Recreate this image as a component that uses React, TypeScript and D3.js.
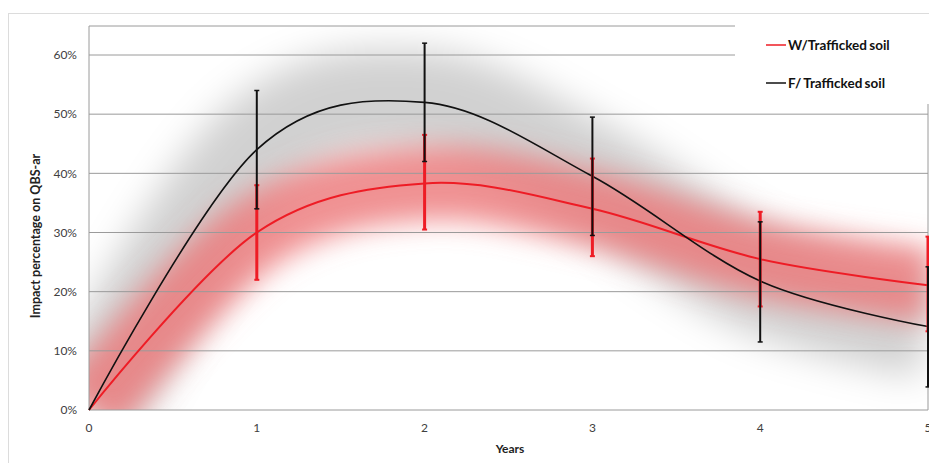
import React from "react";
import * as d3 from "d3";

const years = [0, 1, 2, 3, 4, 5];
const wSeries = [0, 30, 38.3, 34, 25.5, 21.1];
const fSeries = [0, 44, 52, 39.5, 21.8, 14.1];
const wLow = [null, 22, 30.5, 26, 17.5, 13.3];
const wHigh = [null, 38, 46.5, 42.5, 33.5, 29.3];
const fLow = [null, 34, 42, 29.5, 11.5, 3.9];
const fHigh = [null, 54, 62, 49.5, 31.8, 24.2];
const yTicks = [0, 10, 20, 30, 40, 50, 60];
const xTicks = [0, 1, 2, 3, 4, 5];
const legendLabels = ["W/Trafficked soil", "F/ Trafficked soil"];

const W = 929;
const H = 463;
const FONT = "Lato, 'Open Sans', sans-serif";

export default function App() {
  const left = 89, right = 928, top = 26, bottom = 410;
  const x = d3.scaleLinear().domain([0, 5]).range([left, right]);
  const y = d3.scaleLinear().domain([0, 60]).range([bottom, 55]);
  const curve = d3.curveCatmullRom.alpha(0);
  const line = d3.line<number>().x((_, i) => x(years[i])).y((d) => y(d)).curve(curve);

  const gridColor = "#9a9a9a";
  const legendLeft = 735;
  const legendBottom = 104;

  return (
    <svg width={W} height={H} style={{ position: "absolute", left: 0, top: 0, background: "#fff" }}>
      <defs>
        <filter id="blurG" x="-20%" y="-50%" width="140%" height="200%">
          <feGaussianBlur stdDeviation="18" />
        </filter>
        <filter id="blurR" x="-20%" y="-50%" width="140%" height="200%">
          <feGaussianBlur stdDeviation="14" />
        </filter>
        <clipPath id="plotClip">
          <rect x={left} y={top} width={right - left} height={bottom - top} />
        </clipPath>
      </defs>
      <rect x={8.5} y={13.5} width={940} height={470} fill="#fff" stroke="#dcdcdc" />
      {/* bands */}
      <g clipPath="url(#plotClip)">
        <g filter="url(#blurG)">
          <path d={line(fSeries) || ""} fill="none" stroke="#000" strokeOpacity={0.18} strokeWidth={104} />
        </g>
        <g filter="url(#blurR)">
          <path d={line(wSeries) || ""} fill="none" stroke="rgb(236,118,120)" strokeOpacity={0.8} strokeWidth={74} />
        </g>
      </g>
      {/* gridlines */}
      {yTicks.map((t) => (
        <line key={t} x1={left} x2={t >= 60 ? legendLeft : right} y1={y(t)} y2={y(t)} stroke={gridColor} strokeWidth={1} />
      ))}
      <line x1={left} x2={legendLeft} y1={top} y2={top} stroke={gridColor} />
      <line x1={left} x2={left} y1={top} y2={bottom} stroke={gridColor} />
      <line x1={right} x2={right} y1={legendBottom} y2={bottom} stroke={gridColor} />
      {/* lines */}
      <path d={line(wSeries) || ""} fill="none" stroke="#ee1c25" strokeWidth={2} />
      <path d={line(fSeries) || ""} fill="none" stroke="#111" strokeWidth={1.6} />
      {/* error bars */}
      {years.map((yr, i) =>
        wLow[i] == null ? null : (
          <g key={"w" + i} stroke="#ee1c25">
            <line x1={x(yr)} x2={x(yr)} y1={y(wLow[i] as number)} y2={y(wHigh[i] as number)} strokeWidth={3} />
            <line x1={x(yr) - 2.5} x2={x(yr) + 2.5} y1={y(wLow[i] as number)} y2={y(wLow[i] as number)} strokeWidth={2} />
            <line x1={x(yr) - 2.5} x2={x(yr) + 2.5} y1={y(wHigh[i] as number)} y2={y(wHigh[i] as number)} strokeWidth={2} />
          </g>
        )
      )}
      {years.map((yr, i) =>
        fLow[i] == null ? null : (
          <g key={"f" + i} stroke="#111">
            <line x1={x(yr)} x2={x(yr)} y1={y(fLow[i] as number)} y2={y(fHigh[i] as number)} strokeWidth={2} />
            <line x1={x(yr) - 2.5} x2={x(yr) + 2.5} y1={y(fLow[i] as number)} y2={y(fLow[i] as number)} strokeWidth={1.5} />
            <line x1={x(yr) - 2.5} x2={x(yr) + 2.5} y1={y(fHigh[i] as number)} y2={y(fHigh[i] as number)} strokeWidth={1.5} />
          </g>
        )
      )}
      {/* legend background */}
      <rect x={legendLeft} y={14} width={W - legendLeft} height={legendBottom - 14} fill="#fff" />
      <line x1={766} x2={786} y1={45} y2={45} stroke="#ee1c25" strokeWidth={1.5} />
      <text x={788} y={45} dy="0.35em" fontFamily={FONT} fontWeight="bold" fontSize={13.5} fill="#111" wordSpacing={-1}>
        {legendLabels[0]}
      </text>
      <line x1={766} x2={786} y1={83} y2={83} stroke="#111" strokeWidth={1.5} />
      <text x={788} y={83} dy="0.35em" fontFamily={FONT} fontWeight="bold" fontSize={13.5} fill="#111" wordSpacing={-1}>
        {legendLabels[1]}
      </text>
      {/* axes labels */}
      {yTicks.map((t) => (
        <text key={"yt" + t} x={77} y={y(t)} dy="0.35em" textAnchor="end" fontFamily={FONT} fontSize={12} fill="#404040">
          {t + "%"}
        </text>
      ))}
      {xTicks.map((t) => (
        <text key={"xt" + t} x={x(t)} y={428} dy="0.35em" textAnchor="middle" fontFamily={FONT} fontSize={12} fill="#404040">
          {t}
        </text>
      ))}
      <text x={510} y={449} dy="0.35em" textAnchor="middle" fontFamily={FONT} fontWeight="bold" fontSize={12} fill="#222">
        Years
      </text>
      <text transform={`translate(36,236) rotate(-90)`} dy="0.35em" textAnchor="middle" fontFamily={FONT} fontWeight="bold" fontSize={12.5} fill="#222">
        Impact percentage on QBS-ar
      </text>
    </svg>
  );
}
